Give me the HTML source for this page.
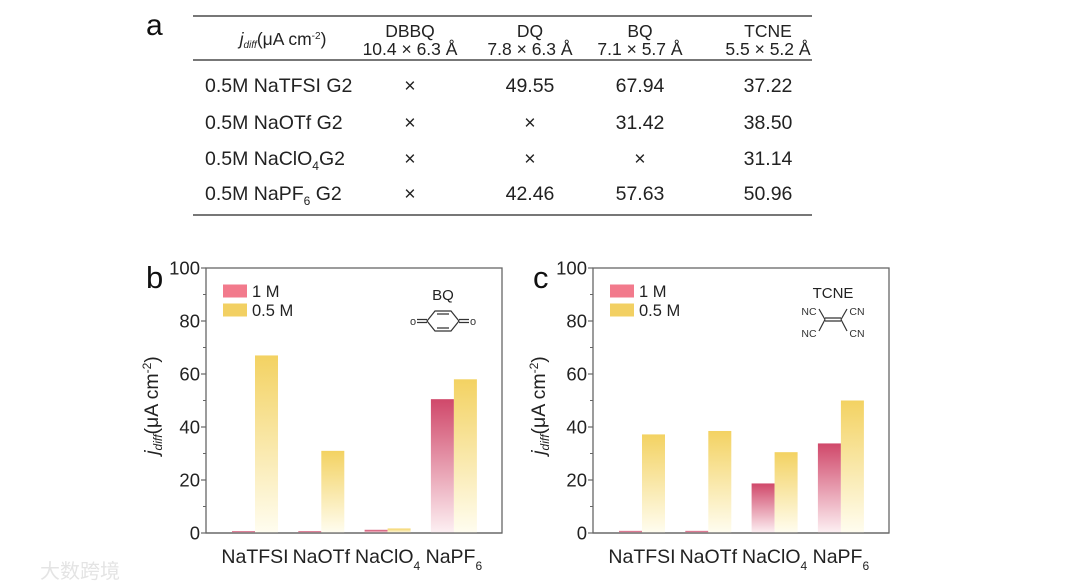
<!DOCTYPE html>
<html><head><meta charset="utf-8"><style>
html,body{margin:0;padding:0;background:#fff;width:1080px;height:587px;overflow:hidden}
svg{display:block;font-family:"Liberation Sans","Noto Sans CJK SC",sans-serif}
</style></head><body>
<svg id="fig" width="1080" height="587" viewBox="0 0 1080 587">
<defs>
<linearGradient id="gRed" x1="0" y1="0" x2="0" y2="1"><stop offset="0" stop-color="#d0486a"/><stop offset="1" stop-color="#fdf0f3"/></linearGradient>
<linearGradient id="gYel" x1="0" y1="0" x2="0" y2="1"><stop offset="0" stop-color="#f3d262"/><stop offset="1" stop-color="#fffdf0"/></linearGradient>
</defs>
<g>
<text x="146" y="35" font-size="30" fill="#111">a</text>
<line x1="193" y1="16" x2="812" y2="16" stroke="#777" stroke-width="2"/>
<line x1="193" y1="60" x2="812" y2="60" stroke="#777" stroke-width="2"/>
<line x1="193" y1="215" x2="812" y2="215" stroke="#777" stroke-width="2"/>
<g font-size="17.5" fill="#222" text-anchor="middle">
<text x="283" y="45"><tspan font-style="italic">j</tspan><tspan font-size="10" dy="3" font-style="italic">diff</tspan><tspan dy="-3">(μA cm</tspan><tspan font-size="10" dy="-6">-2</tspan><tspan dy="6">)</tspan></text>
<text x="410" y="37">DBBQ</text><text x="410" y="55">10.4 × 6.3 Å</text>
<text x="530" y="37">DQ</text><text x="530" y="55">7.8 × 6.3 Å</text>
<text x="640" y="37">BQ</text><text x="640" y="55">7.1 × 5.7 Å</text>
<text x="768" y="37">TCNE</text><text x="768" y="55">5.5 × 5.2 Å</text>
</g>
<g font-size="19.5" fill="#222">
<text x="205" y="92">0.5M NaTFSI G2</text>
<text x="205" y="129">0.5M NaOTf  G2</text>
<text x="205" y="165">0.5M NaClO<tspan font-size="12" dy="5">4</tspan><tspan dy="-5">G2</tspan></text>
<text x="205" y="200">0.5M NaPF<tspan font-size="12" dy="5">6</tspan><tspan dy="-5"> G2</tspan></text>
<g text-anchor="middle">
<text x="410" y="92">×</text><text x="530" y="92">49.55</text><text x="640" y="92">67.94</text><text x="768" y="92">37.22</text>
<text x="410" y="129">×</text><text x="530" y="129">×</text><text x="640" y="129">31.42</text><text x="768" y="129">38.50</text>
<text x="410" y="165">×</text><text x="530" y="165">×</text><text x="640" y="165">×</text><text x="768" y="165">31.14</text>
<text x="410" y="200">×</text><text x="530" y="200">42.46</text><text x="640" y="200">57.63</text><text x="768" y="200">50.96</text>
</g></g>
</g>
<g id="panelB"></g>
<g id="panelC"></g>
<text x="40" y="578" font-size="20" fill="#e4e4e4">大数跨境</text>
</svg>
<script>
const categories = ["NaTFSI","NaOTf","NaClO4","NaPF6"];
const bq1M = [0.7, 0.7, 1.2, 50.5];
const bq05M = [67.0, 31.0, 1.7, 58.0];
const tcne1M = [0.8, 0.8, 18.7, 33.8];
const tcne05M = [37.2, 38.5, 30.5, 50.0];
const yTicks = [0, 20, 40, 60, 80, 100];
const NS = "http://www.w3.org/2000/svg";
function mk(parent, tag, attrs, txt){
  const e = document.createElementNS(NS, tag);
  for (const k in attrs) e.setAttribute(k, attrs[k]);
  if (txt !== undefined) e.textContent = txt;
  parent.appendChild(e); return e;
}
function drawPanel(gid, left, label, s1, s2, molecule){
  const g = document.getElementById(gid);
  const top = 268, bottom = 533, right = left + 296;
  const y = v => bottom - (v / 100) * (bottom - top);
  const xc = i => left + 49 + i * 66.3;
  const bw = 23;
  const box = mk(g, "rect", {x:left, y:top, width:right-left, height:bottom-top, fill:"none", stroke:"#666", "stroke-width":1.3});
  
  
  const pl = mk(g, "text", {x:left-60, y:top+20, "font-size":31, fill:"#111"}, label);
  
  
  yTicks.forEach(t => {
    const tk = mk(g, "line", {x1:left-5, x2:left, y1:y(t), y2:y(t), stroke:"#666", "stroke-width":1.2});
    
    
    const tl = mk(g, "text", {x:left-6, y:y(t)+6.5, "font-size":18.5, fill:"#222", "text-anchor":"end"}, String(t));
    
    
    if (t < 100) {
      const mt = mk(g, "line", {x1:left-3, x2:left, y1:y(t+10), y2:y(t+10), stroke:"#666", "stroke-width":1});
      
      
    }
  });
  const yt = mk(g, "text", {transform:`translate(${left-48},${(top+bottom)/2+5}) rotate(-90)`, "font-size":19.5, fill:"#222", "text-anchor":"middle"});
  
  
  yt.innerHTML = '<tspan font-style="italic">j</tspan><tspan font-style="italic" font-size="12" dy="4">diff</tspan><tspan dy="-4">(μA cm</tspan><tspan font-size="12" dy="-7">-2</tspan><tspan dy="7">)</tspan>';
  categories.forEach((c, i) => {
    const b1 = mk(g, "rect", {x:xc(i)-bw, y:y(s1[i]), width:bw, height:bottom-y(s1[i]), fill:"url(#gRed)"});
    
    
    const b2 = mk(g, "rect", {x:xc(i), y:y(s2[i]), width:bw, height:bottom-y(s2[i]), fill:"url(#gYel)"});
    
    
    const xl = mk(g, "text", {x:xc(i), y:563, "font-size":19.5, fill:"#222", "text-anchor":"middle"});
    
    
    const m = c.match(/^(.*?)(\d)$/);
    if (m) xl.innerHTML = m[1] + '<tspan font-size="12" dy="7">' + m[2] + '</tspan>';
    else xl.textContent = c;
  });
  const ax = mk(g, "line", {x1:left, x2:right, y1:bottom, y2:bottom, stroke:"#666", "stroke-width":1.3});
  
  
  [["#f27a8c","1 M",291],["#f2d063","0.5 M",310]].forEach(([col, txt, yy]) => {
    const sw = mk(g, "rect", {x:left+17, y:yy-6.5, width:24, height:13, fill:col});
    
    
    const lt = mk(g, "text", {x:left+46, y:yy+6, "font-size":16.5, fill:"#222"}, txt);
    
    
  });
  const mol = mk(g, "g", {});
  
  
  if (molecule === "bq") {
    const cx = left + 237, cy = 321;
    mk(mol, "text", {x:cx, y:300, "font-size":15, fill:"#222", "text-anchor":"middle"}, "BQ");
    mk(mol, "path", {d:`M${cx-16},${cy} L${cx-8},${cy-10} L${cx+8},${cy-10} L${cx+16},${cy} L${cx+8},${cy+10} L${cx-8},${cy+10} Z M${cx-6},${cy-7} L${cx+6},${cy-7} M${cx-6},${cy+7} L${cx+6},${cy+7} M${cx-16},${cy-1.5} L${cx-26},${cy-1.5} M${cx-16},${cy+1.5} L${cx-26},${cy+1.5} M${cx+16},${cy-1.5} L${cx+26},${cy-1.5} M${cx+16},${cy+1.5} L${cx+26},${cy+1.5}`, fill:"none", stroke:"#333", "stroke-width":1.2});
    mk(mol, "text", {x:cx-30, y:cy+4, "font-size":11, fill:"#333", "text-anchor":"middle"}, "o");
    mk(mol, "text", {x:cx+30, y:cy+4, "font-size":11, fill:"#333", "text-anchor":"middle"}, "o");
  } else {
    const cx = left + 240;
    mk(mol, "text", {x:cx, y:298, "font-size":15, fill:"#222", "text-anchor":"middle"}, "TCNE");
    mk(mol, "path", {d:`M${cx-8},318 L${cx+8},318 M${cx-8},321 L${cx+8},321 M${cx-8},319.5 L${cx-14},309 M${cx-8},319.5 L${cx-14},331 M${cx+8},319.5 L${cx+14},309 M${cx+8},319.5 L${cx+14},331`, fill:"none", stroke:"#333", "stroke-width":1.2});
    [["NC",-24,315],["NC",-24,337],["CN",24,315],["CN",24,337]].forEach(([t,dx,yy]) => mk(mol, "text", {x:cx+dx, y:yy, "font-size":10.5, fill:"#333", "text-anchor":"middle"}, t));
  }
}
drawPanel("panelB", 206, "b", bq1M, bq05M, "bq");
drawPanel("panelC", 593, "c", tcne1M, tcne05M, "tcne");
</script>
</body></html>
